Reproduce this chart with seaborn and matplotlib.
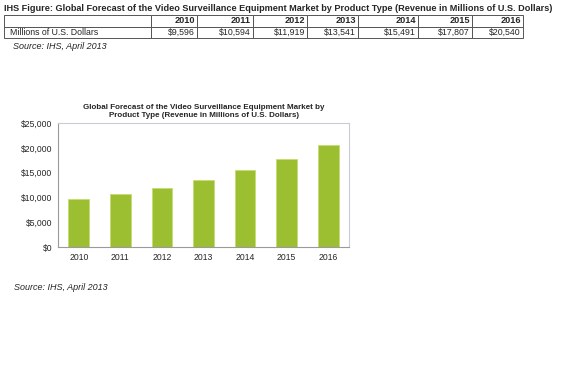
import matplotlib
matplotlib.use("Agg")
from matplotlib import pyplot as plt
from matplotlib.ticker import FuncFormatter
import seaborn as sns
import pandas as pd

years = ['2010', '2011', '2012', '2013', '2014', '2015', '2016']
revenue = [9596, 10594, 11919, 13541, 15491, 17807, 20540]
row_label = 'Millions of U.S. Dollars'
fig_title = 'IHS Figure: Global Forecast of the Video Surveillance Equipment Market by Product Type (Revenue in Millions of U.S. Dollars)'
chart_title = 'Global Forecast of the Video Surveillance Equipment Market by\nProduct Type (Revenue in Millions of U.S. Dollars)'
source = 'Source: IHS, April 2013'

df = pd.DataFrame({'Year': years, 'Revenue': revenue})

sns.set_style("white")
plt.rcParams['font.family'] = ['Liberation Sans', 'DejaVu Sans']

fig = plt.figure(figsize=(5.71, 3.69), dpi=100)

# Top title + table
fig.text(0.007, 0.978, fig_title, fontsize=6.6, fontweight='bold', va='center', ha='left')

tax = fig.add_axes([0.007, 0.897, 0.909, 0.0623])
tax.axis('off')
cell_text = [[''] + years, [row_label] + ['${:,}'.format(v) for v in revenue]]
col_w = [147, 46, 56, 54, 51, 60, 54, 51]
tbl = tax.table(cellText=cell_text, colWidths=[w / sum(col_w) for w in col_w],
                bbox=[0, 0, 1, 1], cellLoc='right')
tbl.auto_set_font_size(False)
for (r, c), cell in tbl.get_celld().items():
    cell.set_edgecolor('#555555')
    cell.set_linewidth(0.7)
    cell.get_text().set_fontsize(6.3)
    cell.PAD = 0.04
    if r == 0:
        cell.get_text().set_fontweight('bold')
        cell.get_text().set_fontsize(6.6)
    if c == 0:
        cell.get_text().set_ha('left')
        cell._loc = 'left'

fig.text(0.022, 0.873, source, fontsize=6.5, style='italic', va='center', ha='left')

# Bar chart
ax = fig.add_axes([0.1016, 0.3306, 0.5096, 0.336])
sns.barplot(data=df, x='Year', y='Revenue', color='#9cbf32', width=0.5,
            edgecolor='#c5dc72', linewidth=0.6, saturation=1, ax=ax)
ax.set_ylim(0, 25000)
ax.set_yticks(range(0, 25001, 5000))
ax.yaxis.set_major_formatter(FuncFormatter(lambda v, p: '${:,.0f}'.format(v)))
ax.set_xlabel('')
ax.set_ylabel('')
ax.tick_params(labelsize=6.2, length=0, pad=4)
for side in ['left', 'bottom']:
    ax.spines[side].set_color('#9a9a9a')
    ax.spines[side].set_linewidth(0.8)
for side in ['top', 'right']:
    ax.spines[side].set_color('#c9ccd6')
    ax.spines[side].set_linewidth(0.8)
ax.set_title(chart_title, fontsize=5.8, fontweight='bold', pad=4, linespacing=1.3)

fig.text(0.024, 0.220, source, fontsize=6.5, style='italic', va='center', ha='left')

fig.savefig('out.png', dpi=100)
